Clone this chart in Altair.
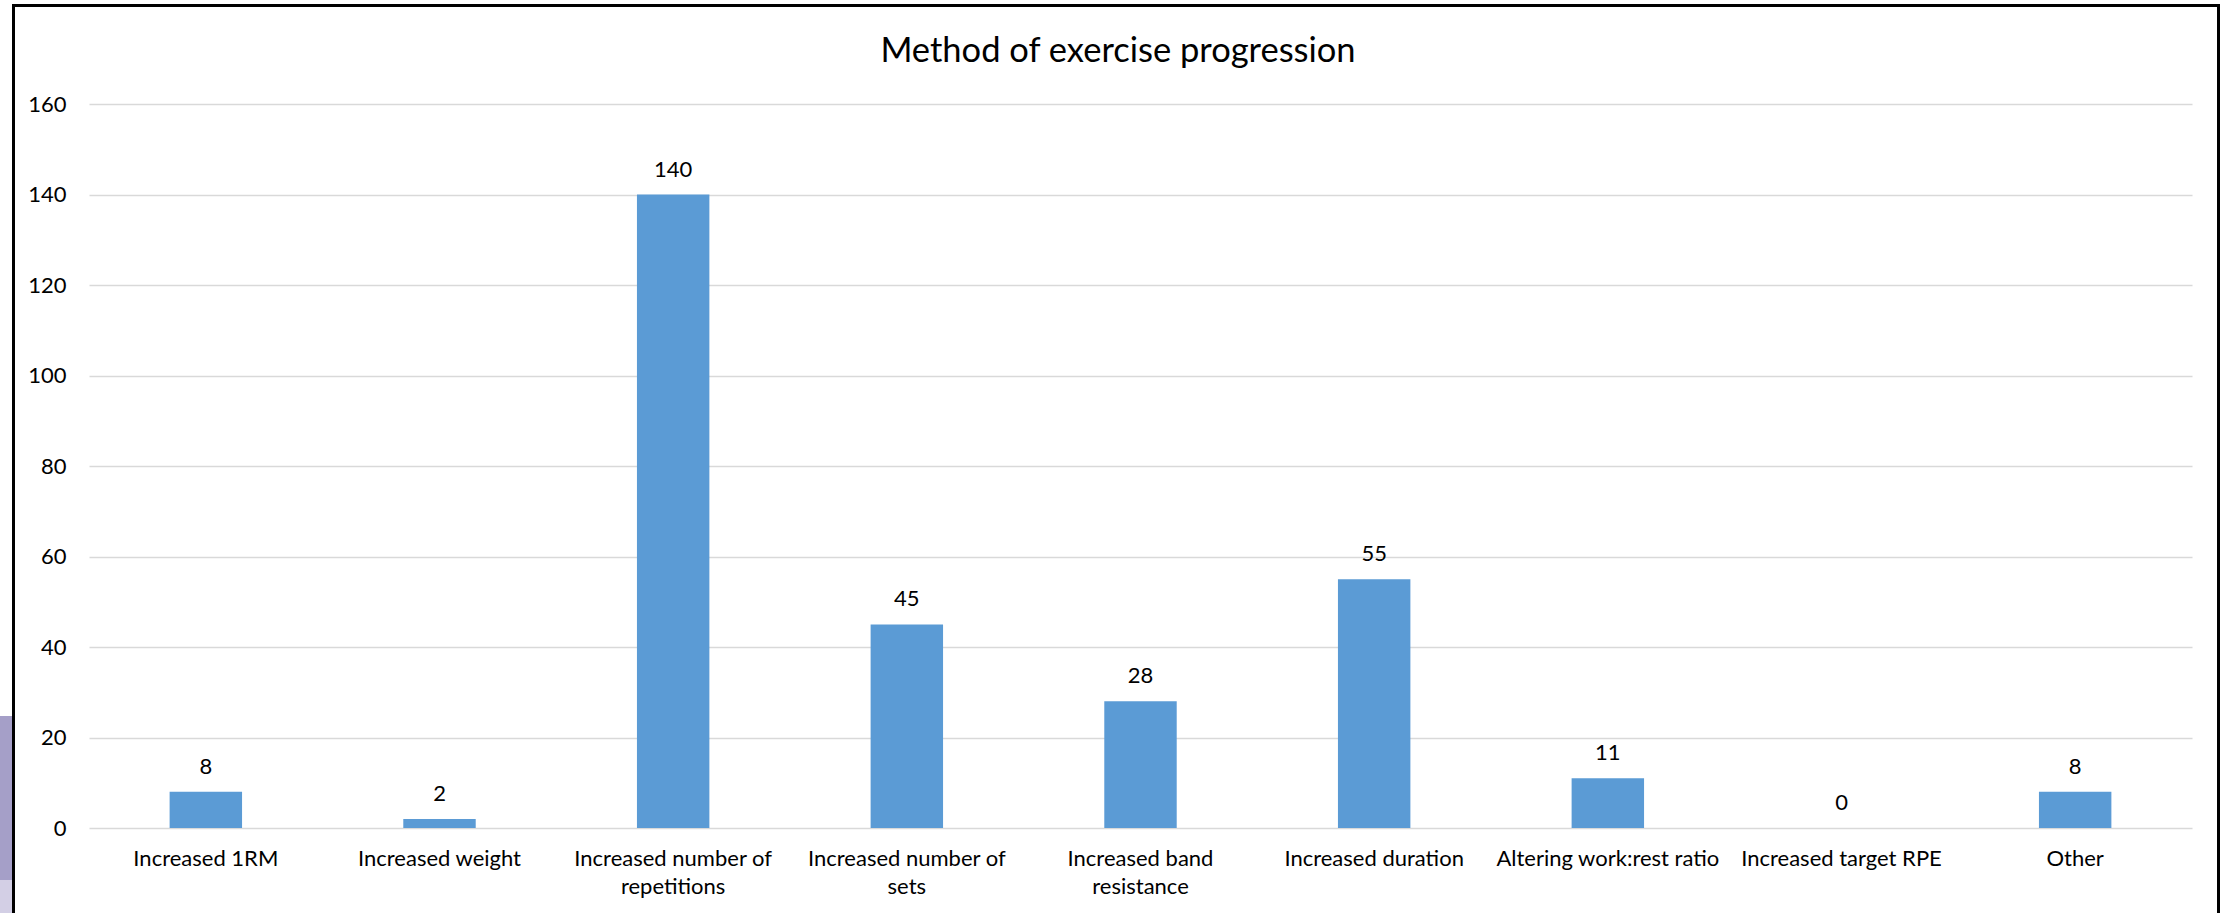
import altair as alt
import pandas as pd

# Survey counts per method of exercise progression
categories = [
    "Increased 1RM",
    "Increased weight",
    "Increased number of|repetitions",
    "Increased number of|sets",
    "Increased band|resistance",
    "Increased duration",
    "Altering work:rest ratio",
    "Increased target RPE",
    "Other",
]
counts = [8, 2, 140, 45, 28, 55, 11, 0, 8]
y_ticks = [0, 20, 40, 60, 80, 100, 120, 140, 160]
title_text = "Method of exercise progression"

df = pd.DataFrame({"method": categories, "count": counts})

FONT = "Lato"
BAR = "#5b9bd5"

x_enc = alt.X(
    "method:N",
    sort=categories,
    scale=alt.Scale(paddingInner=0.69, paddingOuter=0.345),
    axis=alt.Axis(
        title=None,
        labelAngle=0,
        labelExpr="split(datum.label, '|')",
        labelFont=FONT,
        labelFontSize=22,
        labelColor="#000000",
        labelPadding=20,
        labelLineHeight=28,
        labelBaseline="top",
        ticks=False,
        domain=False,
        grid=False,
        labelLimit=400,
    ),
)
y_enc = alt.Y(
    "count:Q",
    scale=alt.Scale(domain=[0, 160], nice=False),
    axis=alt.Axis(
        title=None,
        values=y_ticks,
        labelFont=FONT,
        labelFontSize=22,
        labelColor="#000000",
        labelPadding=23,
        ticks=False,
        domain=False,
        grid=True,
        gridColor="#d9d9d9",
        gridWidth=1.5,
    ),
)

bars = alt.Chart(df).mark_bar(color=BAR).encode(x=x_enc, y=y_enc)

labels = alt.Chart(df).mark_text(
    dy=-18, baseline="alphabetic", font=FONT, fontSize=22, color="#000000"
).encode(x=alt.X("method:N", sort=categories), y="count:Q", text="count:Q")

# Chart heading, centred on the outer box
heading = alt.Chart(pd.DataFrame({"t": [title_text]})).mark_text(
    font=FONT, fontSize=34.5, color="#000000", align="center", baseline="alphabetic"
).encode(x=alt.value(1029), y=alt.value(-42), text="t:N")

# Page background strip at the far left and the outer frame of the chart box
side = alt.Chart(df).mark_rect(color="#a59fc8").encode(
    x=alt.value(-89), x2=alt.value(-77), y=alt.value(612), y2=alt.value(776)
)
side2 = alt.Chart(df).mark_rect(color="#d3cfe5").encode(
    x=alt.value(-89), x2=alt.value(-77), y=alt.value(776), y2=alt.value(809)
)
frame = alt.Chart(df).mark_rect(
    fill=None, stroke="#000000", strokeWidth=3
).encode(
    x=alt.value(-75.5), x2=alt.value(2129.5), y=alt.value(-98.5), y2=alt.value(830)
)

chart = (
    alt.layer(side, side2, frame, bars, labels, heading)
    .properties(
        width=2103,
        height=724,
        padding={"left": 89, "top": 104, "right": 31, "bottom": 85},
        autosize=alt.AutoSizeParams(type="none"),
        background="#ffffff",
    )
    .configure_view(stroke=None)
)

chart.save("out.html", embed_options={"renderer": "svg", "actions": False})
